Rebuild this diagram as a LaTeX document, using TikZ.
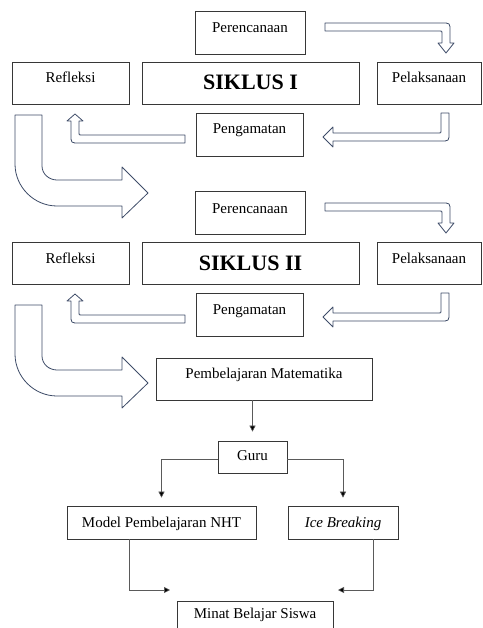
\documentclass[tikz,border=0pt]{standalone}
\usepackage{fontspec}
\setmainfont{Liberation Serif}
\usepackage{tikz}
\usetikzlibrary{arrows.meta, positioning}

\definecolor{boxline}{RGB}{55,55,55}
\definecolor{arrowline}{RGB}{62,76,104}
\definecolor{linkgray}{RGB}{90,90,90}

\tikzset{
  box/.style n args={3}{draw=boxline, line width=0.7pt, inner sep=0pt,
    minimum width=#1, text height=#2, text depth=#3},
  hollow/.style={draw=arrowline, fill=white, line width=0.8pt, line join=round},
  link/.style={draw=linkgray, line width=0.6pt, -{Triangle[length=6pt,width=6pt,fill=black]}}
}

\begin{document}
\begin{tikzpicture}[x=1pt, y=-1pt, font=\fontsize{15}{18}\selectfont]
\clip (0,0) rectangle (482,628);

% The two cycles
\foreach \c/\dy/\num in {1/0/I, 2/180/II}{
  \begin{scope}[yshift=-\dy pt]
    \node[box={110pt}{22pt}{21pt}] (ren\c) at (250,32.5) {Perencanaan};
    \node[box={117pt}{21pt}{21pt}] (ref\c) at (70.5,83) {Refleksi};
    \node[box={217pt}{28pt}{14pt}, font=\fontsize{22}{24}\selectfont\bfseries] (sik\c) at (250.5,83) {SIKLUS \num};
    \node[box={104pt}{21pt}{21pt}] (pel\c) at (429,83) {Pelaksanaan};
    \node[box={107pt}{21pt}{22pt}] (pen\c) at (249.5,134.5) {Pengamatan};
    % Perencanaan -> Pelaksanaan
    \draw[hollow] (325,23) -- (442,23) .. controls (450,23) .. (450,31) -- (450,43)
      -- (454,43) -- (446,53) -- (438,43) -- (442,43) -- (442,33)
      .. controls (442,31) .. (440,31) -- (325,31) -- cycle;
    % Pelaksanaan -> Pengamatan
    \draw[hollow] (441,113) -- (449,113) -- (449,133) .. controls (449,141) .. (441,141)
      -- (333,141) -- (333,147) -- (323,137) -- (333,127) -- (333,133) -- (439,133)
      .. controls (441,133) .. (441,131) -- cycle;
    % Pengamatan -> Refleksi
    \draw[hollow] (185,135) -- (185,143) -- (79,143) .. controls (71,143) .. (71,135)
      -- (71,121) -- (67,121) -- (75,114) -- (83,121) -- (79,121) -- (79,133)
      .. controls (79,135) .. (81,135) -- cycle;
  \end{scope}
}

% Big arrows to the next stage
\foreach \dy in {0,190}{
  \draw[hollow, yshift=-\dy pt] (15,115) -- (42,115) -- (42,166) .. controls (42,174) and (49,180) .. (57,180)
    -- (122,180) -- (122,167) -- (148,193) -- (122,218) -- (122,206) -- (57,206)
    .. controls (34,206) and (15,187) .. (15,164) -- cycle;
}

% Lower part
\node[box={216pt}{20pt}{22pt}] (pm) at (264,379) {Pembelajaran Matematika};
\node[box={69pt}{19pt}{13pt}] (guru) at (252.5,457) {Guru};
\node[box={189pt}{21pt}{12pt}] (model) at (161.5,522.5) {Model Pembelajaran NHT};
\node[box={110pt}{21pt}{12pt}] (ice) at (343,522.5) {\textit{Ice Breaking}};
\node[box={156pt}{17pt}{16pt}] (minat) at (255,617.5) {Minat Belajar Siswa};
\coordinate (minL) at (170,590);
\coordinate (minR) at (338,590);

\draw[link, shorten >=9pt] (guru.north |- pm.south) -- (guru.north);
\draw[link, shorten >=8pt] ([yshift=-2pt]guru.west) -| (model.north);
\draw[link, shorten >=8pt] ([yshift=-2pt]guru.east) -| (ice.north);
\draw[link] ([xshift=-32.5pt]model.south) |- (minL);
\draw[link] ([xshift=30pt]ice.south) |- (minR);
\end{tikzpicture}
\end{document}
